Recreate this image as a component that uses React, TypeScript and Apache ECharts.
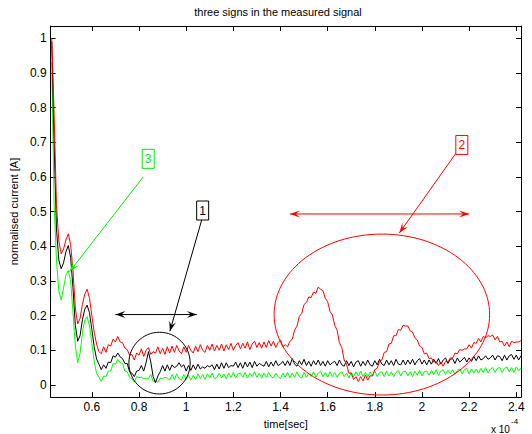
import React, { useEffect, useRef } from "react";
import * as echarts from "echarts";

const FONT = "'Liberation Sans', Arial, Helvetica, sans-serif";

// time axis in units of 1e-4 s, sampled every 0.01 starting at 0.43
const T0 = 0.43;
const DT = 0.01;

const redSignal = [
  1.000, 0.780, 0.520, 0.415, 0.378, 0.392, 0.418, 0.436, 0.405, 0.330,
  0.222, 0.176, 0.192, 0.232, 0.262, 0.276, 0.250, 0.200, 0.152, 0.118,
  0.096, 0.090, 0.110, 0.094, 0.116, 0.112, 0.132, 0.124, 0.140, 0.124,
  0.122, 0.106, 0.102, 0.086, 0.088, 0.072, 0.092, 0.086, 0.104, 0.082,
  0.100, 0.108, 0.088, 0.096, 0.092, 0.110, 0.090, 0.106, 0.088, 0.110,
  0.092, 0.112, 0.094, 0.114, 0.098, 0.090, 0.110, 0.094, 0.114, 0.100,
  0.092, 0.112, 0.096, 0.116, 0.100, 0.094, 0.114, 0.100, 0.118, 0.098,
  0.114, 0.100, 0.118, 0.098, 0.116, 0.102, 0.120, 0.100, 0.114, 0.122,
  0.104, 0.120, 0.106, 0.124, 0.102, 0.118, 0.126, 0.108, 0.122, 0.106,
  0.124, 0.108, 0.128, 0.112, 0.126, 0.108, 0.122, 0.130, 0.110, 0.116,
  0.110, 0.126, 0.132, 0.158, 0.170, 0.198, 0.206, 0.232, 0.238, 0.254,
  0.252, 0.268, 0.264, 0.282, 0.276, 0.272, 0.250, 0.240, 0.212, 0.202,
  0.172, 0.158, 0.122, 0.108, 0.072, 0.060, 0.034, 0.034, 0.016, 0.024,
  0.010, 0.024, 0.012, 0.028, 0.014, 0.026, 0.026, 0.044, 0.048, 0.068,
  0.072, 0.094, 0.096, 0.118, 0.120, 0.142, 0.142, 0.160, 0.158, 0.172,
  0.170, 0.170, 0.156, 0.152, 0.136, 0.130, 0.112, 0.108, 0.090, 0.092,
  0.076, 0.078, 0.066, 0.068, 0.056, 0.066, 0.054, 0.068, 0.066, 0.078,
  0.078, 0.092, 0.090, 0.102, 0.100, 0.104, 0.104, 0.116, 0.106, 0.122,
  0.120, 0.134, 0.124, 0.140, 0.136, 0.142, 0.140, 0.144, 0.130, 0.140,
  0.124, 0.126, 0.112, 0.124, 0.110, 0.126, 0.122, 0.124, 0.124, 0.128,
];

const blackSignal = [
  0.990, 0.700, 0.450, 0.360, 0.335, 0.352, 0.384, 0.402, 0.368, 0.280,
  0.172, 0.126, 0.142, 0.188, 0.218, 0.230, 0.208, 0.160, 0.110, 0.075,
  0.060, 0.044, 0.058, 0.048, 0.066, 0.064, 0.084, 0.080, 0.092, 0.081,
  0.076, 0.062, 0.062, 0.038, 0.034, 0.024, 0.040, 0.042, 0.056, 0.040,
  0.064, 0.096, 0.066, 0.024, 0.006, 0.026, 0.038, 0.056, 0.040, 0.058,
  0.042, 0.058, 0.050, 0.054, 0.064, 0.052, 0.058, 0.040, 0.056, 0.042,
  0.058, 0.044, 0.060, 0.046, 0.052, 0.048, 0.056, 0.052, 0.058, 0.044,
  0.060, 0.046, 0.064, 0.048, 0.064, 0.050, 0.056, 0.054, 0.066, 0.050,
  0.064, 0.048, 0.066, 0.052, 0.066, 0.050, 0.068, 0.054, 0.062, 0.058,
  0.054, 0.068, 0.052, 0.066, 0.054, 0.070, 0.056, 0.060, 0.068, 0.056,
  0.070, 0.056, 0.076, 0.060, 0.054, 0.070, 0.058, 0.074, 0.056, 0.068,
  0.054, 0.070, 0.058, 0.072, 0.056, 0.068, 0.054, 0.070, 0.058, 0.064,
  0.068, 0.056, 0.072, 0.058, 0.054, 0.070, 0.056, 0.068, 0.052, 0.066,
  0.070, 0.054, 0.068, 0.056, 0.072, 0.058, 0.054, 0.070, 0.058, 0.074,
  0.060, 0.056, 0.072, 0.058, 0.070, 0.056, 0.074, 0.060, 0.058, 0.072,
  0.058, 0.072, 0.060, 0.074, 0.058, 0.070, 0.076, 0.060, 0.072, 0.058,
  0.072, 0.060, 0.074, 0.062, 0.076, 0.060, 0.072, 0.078, 0.062, 0.074,
  0.076, 0.062, 0.078, 0.066, 0.072, 0.080, 0.066, 0.078, 0.068, 0.082,
  0.070, 0.084, 0.072, 0.076, 0.084, 0.074, 0.078, 0.086, 0.072, 0.084,
  0.082, 0.070, 0.086, 0.072, 0.084, 0.088, 0.074, 0.086, 0.072, 0.084,
];

const greenSignal = [
  0.930, 0.520, 0.360, 0.270, 0.245, 0.280, 0.316, 0.330, 0.300, 0.210,
  0.112, 0.064, 0.092, 0.150, 0.188, 0.197, 0.170, 0.120, 0.068, 0.034,
  0.022, 0.010, 0.026, 0.024, 0.040, 0.040, 0.062, 0.060, 0.074, 0.064,
  0.062, 0.040, 0.038, 0.022, 0.018, 0.008, 0.024, 0.022, 0.022, 0.018,
  0.018, 0.018, 0.030, 0.010, 0.012, 0.008, 0.020, 0.018, 0.022, 0.020,
  0.014, 0.030, 0.016, 0.032, 0.018, 0.014, 0.030, 0.016, 0.028, 0.014,
  0.028, 0.016, 0.032, 0.018, 0.030, 0.016, 0.032, 0.020, 0.034, 0.018,
  0.022, 0.034, 0.020, 0.032, 0.018, 0.034, 0.022, 0.036, 0.020, 0.032,
  0.034, 0.022, 0.036, 0.020, 0.034, 0.024, 0.038, 0.022, 0.034, 0.020,
  0.034, 0.022, 0.036, 0.024, 0.020, 0.034, 0.024, 0.018, 0.034, 0.022,
  0.036, 0.020, 0.034, 0.022, 0.038, 0.024, 0.020, 0.036, 0.022, 0.034,
  0.024, 0.038, 0.022, 0.034, 0.040, 0.024, 0.036, 0.022, 0.038, 0.024,
  0.036, 0.022, 0.034, 0.038, 0.024, 0.034, 0.020, 0.036, 0.024, 0.038,
  0.026, 0.040, 0.024, 0.036, 0.022, 0.038, 0.026, 0.040, 0.024, 0.036,
  0.038, 0.024, 0.040, 0.026, 0.038, 0.024, 0.036, 0.042, 0.026, 0.038,
  0.040, 0.026, 0.038, 0.024, 0.040, 0.028, 0.042, 0.026, 0.038, 0.040,
  0.028, 0.042, 0.030, 0.044, 0.028, 0.040, 0.044, 0.030, 0.042, 0.032,
  0.044, 0.030, 0.042, 0.046, 0.032, 0.044, 0.048, 0.032, 0.046, 0.034,
  0.046, 0.034, 0.048, 0.036, 0.050, 0.034, 0.046, 0.050, 0.036, 0.048,
  0.050, 0.036, 0.048, 0.052, 0.038, 0.050, 0.036, 0.052, 0.040, 0.050,
];

const time = redSignal.map((_, i) => +(T0 + i * DT).toFixed(2));

const xTicks = [0.6, 0.8, 1, 1.2, 1.4, 1.6, 1.8, 2, 2.2, 2.4];
const yTicks = [0, 0.1, 0.2, 0.3, 0.4, 0.5, 0.6, 0.7, 0.8, 0.9, 1];
const X_MIN = 0.425;
const X_MAX = 2.42;
const Y_MIN = -0.035;
const Y_MAX = 1.035;

// annotation geometry in data units
const ellipses = [
  { cx: 0.887, cy: 0.063, rx: 0.13, ry: 0.089, color: "#000000" },
  { cx: 1.83, cy: 0.203, rx: 0.457, ry: 0.232, color: "#ff0000" },
];
const doubleArrows = [
  { from: [0.7, 0.203], to: [1.045, 0.203], color: "#000000" },
  { from: [1.44, 0.493], to: [2.2, 0.493], color: "#ff0000" },
];
const textArrows = [
  { label: "3", box: [0.839, 0.652], tail: [0.818, 0.6], head: [0.506, 0.327], color: "#00ee00" },
  { label: "1", box: [1.07, 0.503], tail: [1.066, 0.476], head: [0.931, 0.155], color: "#000000" },
  { label: "2", box: [2.169, 0.692], tail: [2.144, 0.668], head: [1.904, 0.438], color: "#ff0000" },
];

function headPoints(tip: number[], from: number[], L = 10, W = 3.5) {
  const dx = tip[0] - from[0];
  const dy = tip[1] - from[1];
  const len = Math.hypot(dx, dy) || 1;
  const ux = dx / len;
  const uy = dy / len;
  const nx = -uy;
  const ny = ux;
  return [
    [tip[0], tip[1]],
    [tip[0] - ux * L + nx * W, tip[1] - uy * L + ny * W],
    [tip[0] - ux * L * 0.6, tip[1] - uy * L * 0.6],
    [tip[0] - ux * L - nx * W, tip[1] - uy * L - ny * W],
  ];
}

export default function App() {
  const ref = useRef<HTMLDivElement>(null);

  useEffect(() => {
    if (!ref.current) return;
    const chart = echarts.init(ref.current, null, { renderer: "svg" });

    const axisLineStyle = { color: "#000", width: 1 };
    const option: any = {
      animation: false,
      backgroundColor: "#ffffff",
      grid: { left: 47, right: 11, top: 26, bottom: 35, containLabel: false },
      xAxis: [
        {
          type: "value",
          min: X_MIN,
          max: X_MAX,
          position: "bottom",
          name: "time[sec]",
          nameLocation: "middle",
          nameGap: 18,
          nameTextStyle: { color: "#000", fontSize: 11, fontFamily: FONT },
          axisLine: { show: true, onZero: false, lineStyle: axisLineStyle },
          axisTick: { show: true, inside: true, length: 5, customValues: xTicks, lineStyle: axisLineStyle },
          axisLabel: { show: true, customValues: xTicks, color: "#000", fontSize: 12, fontFamily: FONT, margin: 4 },
          splitLine: { show: false },
        },
        {
          type: "value",
          min: X_MIN,
          max: X_MAX,
          position: "top",
          axisLine: { show: true, onZero: false, lineStyle: axisLineStyle },
          axisTick: { show: true, inside: true, length: 5, customValues: xTicks, lineStyle: axisLineStyle },
          axisLabel: { show: false },
          splitLine: { show: false },
        },
      ],
      yAxis: [
        {
          type: "value",
          min: Y_MIN,
          max: Y_MAX,
          position: "left",
          name: "normalised current [A]",
          nameLocation: "middle",
          nameGap: 29,
          nameTextStyle: { color: "#000", fontSize: 11, fontFamily: FONT },
          axisLine: { show: true, onZero: false, lineStyle: axisLineStyle },
          axisTick: { show: true, inside: true, length: 5, customValues: yTicks, lineStyle: axisLineStyle },
          axisLabel: { show: true, customValues: yTicks, color: "#000", fontSize: 12, fontFamily: FONT, margin: 4 },
          splitLine: { show: false },
        },
        {
          type: "value",
          min: Y_MIN,
          max: Y_MAX,
          position: "right",
          axisLine: { show: true, onZero: false, lineStyle: axisLineStyle },
          axisTick: { show: true, inside: true, length: 5, customValues: yTicks, lineStyle: axisLineStyle },
          axisLabel: { show: false },
          splitLine: { show: false },
        },
      ],
      series: [
        {
          name: "green",
          type: "line",
          showSymbol: false,
          symbol: "none",
          data: time.map((t, i) => [t, greenSignal[i]]),
          lineStyle: { color: "#00ff00", width: 1 },
          itemStyle: { color: "#00ff00" },
          z: 2,
        },
        {
          name: "black",
          type: "line",
          showSymbol: false,
          symbol: "none",
          data: time.map((t, i) => [t, blackSignal[i]]),
          lineStyle: { color: "#000000", width: 1 },
          itemStyle: { color: "#000000" },
          z: 3,
        },
        {
          name: "red",
          type: "line",
          showSymbol: false,
          symbol: "none",
          data: time.map((t, i) => [t, redSignal[i]]),
          lineStyle: { color: "#ff0000", width: 1 },
          itemStyle: { color: "#ff0000" },
          z: 4,
        },
      ],
    };
    chart.setOption(option);

    const px = (p: number[]) => chart.convertToPixel({ seriesIndex: 0 }, p) as number[];
    const graphics: any[] = [];

    graphics.push({
      type: "text",
      x: 278,
      y: 12,
      z: 100,
      style: {
        text: "three signs in the measured signal",
        fill: "#000",
        fontSize: 11,
        fontFamily: FONT,
        align: "center",
        verticalAlign: "middle",
      },
    });
    graphics.push({
      type: "text",
      x: 491,
      y: 429,
      z: 100,
      style: { text: "x 10", fill: "#000", fontSize: 10, fontFamily: FONT, align: "left", verticalAlign: "middle" },
    });
    graphics.push({
      type: "text",
      x: 511,
      y: 421,
      z: 100,
      style: { text: "-4", fill: "#000", fontSize: 8, fontFamily: FONT, align: "left", verticalAlign: "middle" },
    });

    ellipses.forEach((e) => {
      const c = px([e.cx, e.cy]);
      const r = px([e.cx + e.rx, e.cy + e.ry]);
      graphics.push({
        type: "ellipse",
        z: 100,
        shape: { cx: c[0], cy: c[1], rx: Math.abs(r[0] - c[0]), ry: Math.abs(c[1] - r[1]) },
        style: { fill: "none", stroke: e.color, lineWidth: 1 },
      });
    });

    doubleArrows.forEach((a) => {
      const p1 = px(a.from);
      const p2 = px(a.to);
      graphics.push({
        type: "line",
        z: 100,
        shape: { x1: p1[0], y1: p1[1], x2: p2[0], y2: p2[1] },
        style: { stroke: a.color, lineWidth: 1 },
      });
      graphics.push({ type: "polygon", z: 101, shape: { points: headPoints(p2, p1) }, style: { fill: a.color } });
      graphics.push({ type: "polygon", z: 101, shape: { points: headPoints(p1, p2) }, style: { fill: a.color } });
    });

    textArrows.forEach((a) => {
      const b = px(a.box);
      const t = px(a.tail);
      const h = px(a.head);
      graphics.push({
        type: "line",
        z: 100,
        shape: { x1: t[0], y1: t[1], x2: h[0], y2: h[1] },
        style: { stroke: a.color, lineWidth: 1 },
      });
      graphics.push({ type: "polygon", z: 101, shape: { points: headPoints(h, t) }, style: { fill: a.color } });
      graphics.push({
        type: "rect",
        z: 102,
        shape: { x: b[0] - 6, y: b[1] - 9.5, width: 12, height: 19 },
        style: { fill: "#ffffff", stroke: a.color, lineWidth: 1 },
      });
      graphics.push({
        type: "text",
        z: 103,
        x: b[0],
        y: b[1],
        style: {
          text: a.label,
          fill: a.color,
          fontSize: 12,
          fontFamily: FONT,
          align: "center",
          verticalAlign: "middle",
        },
      });
    });

    chart.setOption({ graphic: graphics });

    return () => chart.dispose();
  }, []);

  return (
    <div
      ref={ref}
      style={{ position: "fixed", left: 0, top: 0, width: 532, height: 434, background: "#fff" }}
    />
  );
}
